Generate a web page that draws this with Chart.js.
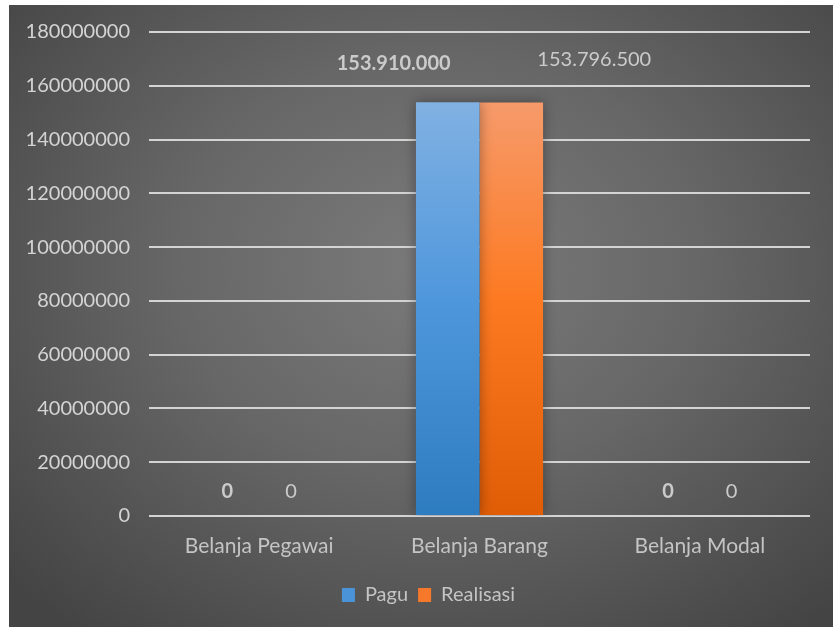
<!DOCTYPE html>
<html>
<head>
<meta charset="utf-8">
<script src="https://cdn.jsdelivr.net/npm/chart.js@4"></script>
<style>
  body { margin: 0; background: #fff; }
  #wrap {
    position: absolute; left: 9px; top: 5px; width: 824px; height: 622px;
    background: radial-gradient(ellipse 70% 75% at 52% 42%, #7b7b7b 0%, #676767 45%, #444 100%);
  }
</style>
</head>
<body>
<div id="wrap"><canvas id="myChart" width="824" height="622"></canvas></div>
<script>
const categories = ['Belanja Pegawai', 'Belanja Barang', 'Belanja Modal']
const pagu = [0, 153910000, 0]
const realisasi = [0, 153796500, 0]
const yMax = 180000000
const yStep = 20000000

// where excel left the value labels, relative to the top of each bar
const labelShift = [
    [[0, -24], [-54, -39], [0, -24]],
    [[0, -24], [83, -43], [0, -24]]
]

const FONT = 'Lato, "Open Sans", sans-serif'

function dots(v) {
    return String(v).replace(/\B(?=(\d{3})+(?!\d))/g, '.')
}

function barFill(stops) {
    return ctx => {
        const area = ctx.chart.chartArea
        if (!area) return stops[1]
        const g = ctx.chart.ctx.createLinearGradient(0, area.top, 0, area.bottom)
        g.addColorStop(0.15, stops[0])
        g.addColorStop(0.55, stops[1])
        g.addColorStop(1, stops[2])
        return g
    }
}

const barLabels = {
    id: 'barLabels',
    afterLayout(chart) {
        // legend sits a little right of centre in the original
        chart.legend.left += 19
        chart.legend.right += 19
    },
    beforeDatasetsDraw(chart) {
        const c = chart.ctx
        c.save()
        c.shadowColor = 'rgba(0,0,0,0.35)'
        c.shadowBlur = 12
    },
    afterDatasetsDraw(chart) {
        const c = chart.ctx
        c.restore()
        c.save()
        c.textAlign = 'center'
        c.textBaseline = 'middle'
        c.fillStyle = '#cbcbcb'
        chart.data.datasets.forEach((ds, i) => {
            c.font = (i === 0 ? 'bold ' : '') + '20px ' + FONT
            chart.getDatasetMeta(i).data.forEach((bar, j) => {
                const s = labelShift[i][j]
                c.fillText(dots(ds.data[j]), bar.x + s[0], bar.y + s[1])
            })
        })
        c.restore()
    }
}

new Chart(document.getElementById('myChart'), {
    type: 'bar',
    data: {
        labels: categories,
        datasets: [
            {
                label: 'Pagu',
                data: pagu,
                backgroundColor: barFill(['#80b1e2', '#4f97dc', '#2e7cc0']),
                legendColor: '#4a93d8'
            },
            {
                label: 'Realisasi',
                data: realisasi,
                backgroundColor: barFill(['#f69a6a', '#fd7a22', '#e05d06']),
                legendColor: '#f6782a'
            }
        ]
    },
    options: {
        responsive: false,
        animation: false,
        devicePixelRatio: 1,
        categoryPercentage: 0.577,
        barPercentage: 1,
        layout: { padding: { top: 27, right: 23, bottom: 12, left: 0 } },
        scales: {
            x: {
                grid: { display: false },
                border: { display: false },
                ticks: { color: '#c4c4c4', font: { family: FONT, size: 21 }, padding: 10 },
                afterFit(scale) { scale.height = 59 }
            },
            y: {
                min: 0,
                max: yMax,
                grid: { color: '#d4d4d4', lineWidth: 2, drawTicks: false },
                border: { display: false },
                ticks: {
                    stepSize: yStep,
                    color: '#d4d4d4',
                    font: { family: FONT, size: 20 },
                    padding: 19,
                    callback: v => String(v)
                },
                afterFit(scale) {
                    scale.width = 140
                    scale.paddingTop = 0
                    scale.paddingBottom = 0
                }
            }
        },
        plugins: {
            tooltip: { enabled: false },
            legend: {
                position: 'bottom',
                labels: {
                    boxWidth: 13,
                    boxHeight: 14,
                    padding: 10,
                    color: '#c4c4c4',
                    font: { family: FONT, size: 20 },
                    generateLabels(chart) {
                        return chart.data.datasets.map((ds, i) => ({
                            text: ds.label,
                            fillStyle: ds.legendColor,
                            strokeStyle: ds.legendColor,
                            lineWidth: 0,
                            fontColor: '#c4c4c4',
                            datasetIndex: i
                        }))
                    }
                }
            }
        }
    },
    plugins: [barLabels]
})
</script>
</body>
</html>
